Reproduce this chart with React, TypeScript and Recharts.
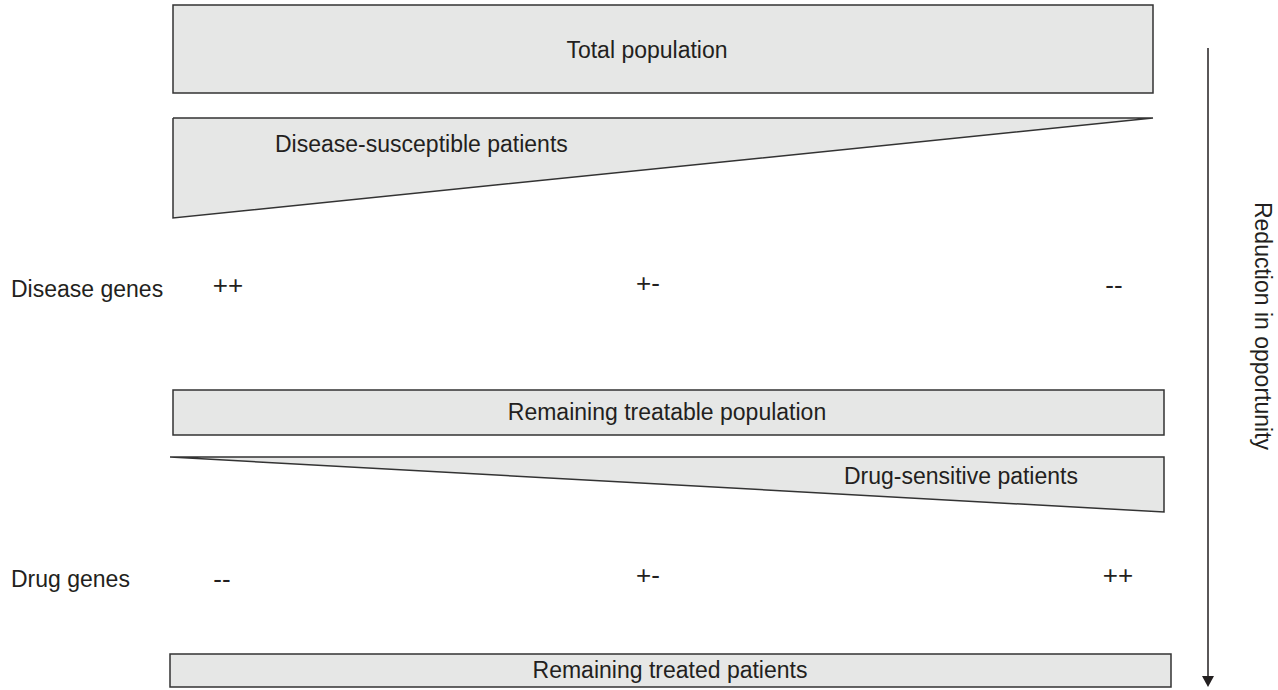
import { ComposedChart, XAxis, YAxis, ReferenceArea, Area, Line, Scatter } from 'recharts';

const FILL = '#e6e7e6';
const EDGE = '#333333';
const INK = '#231f20';
const FONT = '"Liberation Sans", Arial, Helvetica, sans-serif';

// everything lives in diagram units: x 0..1278, y 0..690 (top down)

// population bands
const bandLabels = ['Total population', 'Remaining treatable population', 'Remaining treated patients'];
const bandLeft = [173, 173, 170];
const bandRight = [1153, 1164, 1171];
const bandTop = [5, 390, 654];
const bandBottom = [93, 435, 687];

// wedges: top and bottom edge at each end
const diseaseWedge = [
  { x: 173, top: 118, bottom: 218 },
  { x: 1153, top: 118, bottom: 118 },
];
const drugWedge = [
  { x: 170, top: 457, bottom: 457 },
  { x: 1164, top: 457, bottom: 512 },
];

// text in the figure
const labelText = [
  'Total population',
  'Disease-susceptible patients',
  'Remaining treatable population',
  'Drug-sensitive patients',
  'Remaining treated patients',
  'Disease genes',
  'Drug genes',
  'Reduction in opportunity',
];
const labelX = [647, 275, 667, 844, 670, 11, 11, 1255];
const labelY = [58, 152, 420, 484, 678, 297, 587, 326];
const labelAnchor = ['middle', 'start', 'middle', 'start', 'middle', 'start', 'start', 'middle'];

// gene effect marks for each row
const markText = ['++', '+-', '--', '--', '+-', '++'];
const markX = [228, 648, 1114, 222, 648, 1118];
const markY = [294, 292, 294, 588, 584, 584];

// downward arrow
const arrowLine = [
  { x: 1208, y: 48 },
  { x: 1208, y: 677 },
];
const arrowTip = [{ x: 1208, y: 687 }];

const outline = (w: { x: number; top: number; bottom: number }[]) => [
  ...w.map((p) => ({ x: p.x, y: p.top })),
  ...w
    .slice()
    .reverse()
    .map((p) => ({ x: p.x, y: p.bottom })),
  { x: w[0].x, y: w[0].top },
];

const labels = labelText.map((text, i) => ({
  x: labelX[i],
  y: labelY[i],
  text,
  anchor: labelAnchor[i],
  size: 23,
  rotate: text === 'Reduction in opportunity',
}));
const marks = markText.map((text, i) => ({
  x: markX[i],
  y: markY[i],
  text,
  anchor: 'middle',
  size: 26,
  rotate: false,
}));

const TextMark = (props: any) => {
  const { cx, cy, payload } = props;
  return (
    <text
      x={cx}
      y={cy}
      textAnchor={payload.anchor}
      transform={payload.rotate ? `rotate(90 ${cx} ${cy})` : undefined}
      fontFamily={FONT}
      fontSize={payload.size}
      fill={INK}
    >
      {payload.text}
    </text>
  );
};

const ArrowHead = (props: any) => {
  const { cx, cy } = props;
  return <path d={`M${cx - 6},${cy - 11}L${cx + 6},${cy - 11}L${cx},${cy}Z`} fill={INK} />;
};

export default function App() {
  return (
    <div style={{ position: 'absolute', left: 0, top: 0, background: '#fff' }}>
      <ComposedChart width={1278} height={690} margin={{ top: 0, right: 0, bottom: 0, left: 0 }}>
        <XAxis type="number" dataKey="x" domain={[0, 1278]} hide allowDataOverflow />
        <YAxis type="number" dataKey="y" domain={[0, 690]} reversed hide allowDataOverflow />

        {bandLabels.map((name, i) => (
          <ReferenceArea
            key={name}
            x1={bandLeft[i]}
            x2={bandRight[i]}
            y1={bandTop[i]}
            y2={bandBottom[i]}
            fill={FILL}
            fillOpacity={1}
            stroke={EDGE}
            strokeWidth={1.5}
            ifOverflow="visible"
          />
        ))}

        {[diseaseWedge, drugWedge].map((w, i) => (
          <Area
            key={'fill' + i}
            data={w}
            dataKey={(d: any) => [d.bottom, d.top]}
            type="linear"
            fill={FILL}
            fillOpacity={1}
            stroke="none"
            dot={false}
            activeDot={false}
            isAnimationActive={false}
          />
        ))}
        {[diseaseWedge, drugWedge].map((w, i) => (
          <Line
            key={'edge' + i}
            data={outline(w)}
            dataKey="y"
            type="linear"
            stroke={EDGE}
            strokeWidth={1.5}
            dot={false}
            activeDot={false}
            isAnimationActive={false}
          />
        ))}

        <Line
          data={arrowLine}
          dataKey="y"
          type="linear"
          stroke={INK}
          strokeWidth={1.5}
          dot={false}
          activeDot={false}
          isAnimationActive={false}
        />
        <Scatter data={arrowTip} dataKey="y" shape={ArrowHead} isAnimationActive={false} />
        <Scatter data={labels} dataKey="y" shape={TextMark} isAnimationActive={false} />
        <Scatter data={marks} dataKey="y" shape={TextMark} isAnimationActive={false} />
      </ComposedChart>
    </div>
  );
}
